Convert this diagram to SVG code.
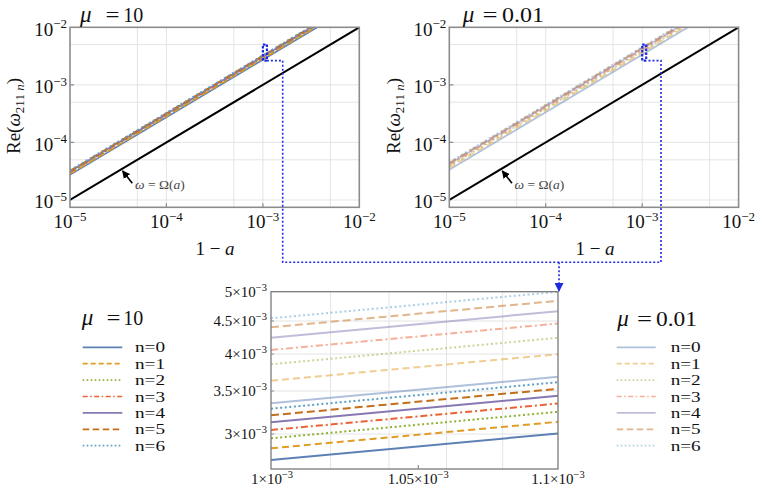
<svg xmlns="http://www.w3.org/2000/svg" width="763" height="499" viewBox="0 0 763 499" font-family="'Liberation Serif','DejaVu Serif','Times New Roman',serif">
<style>
text{font-family:'Liberation Serif','DejaVu Serif','Times New Roman',serif;fill:#111}
.tk{font-size:19px}
.sup{font-size:13px}
.ttl{font-size:20px}
.mu{font-size:23px;font-style:italic}
.ax{font-size:19px}
.it{font-style:italic}
.ann{font-size:13.5px;fill:#444}
.lg{font-size:14.5px}
.ilab{font-size:15px}
.isup{font-size:10.5px}
.frame{fill:none;stroke:#8c8c8c;stroke-width:1.6}
.iframe{fill:none;stroke:#7a7a7a;stroke-width:1.3}
.grid{stroke:#e4e4e4;stroke-width:1;fill:none}
.tick{stroke:#8c8c8c;stroke-width:1.2}
.c{fill:none}
.c0{stroke:#5E81B5}
.c1{stroke:#E19C24}
.c2{stroke:#8FB032}
.c3{stroke:#EB6235}
.c4{stroke:#8778B3}
.c5{stroke:#C56E1A}
.c6{stroke:#5D9EC7}
.d1{stroke-dasharray:7 4}
.d2{stroke-dasharray:2 2.6}
.d3{stroke-dasharray:7 3 2 3}
.d5{stroke-dasharray:8 4}
.d6{stroke-dasharray:2 2.6}
.lt{stroke-opacity:0.5}
.w1{stroke-width:1.7}
.w2{stroke-width:2}
.blk{stroke:#000;stroke-width:2;fill:none}
.blue{stroke:#1f2be0;fill:none;stroke-width:1.6;stroke-dasharray:2 2}
.bluer{stroke:#1f2be0;fill:none;stroke-width:2.2;stroke-dasharray:2.5 1.5}
</style>
<defs>
<marker id="ah" markerWidth="8" markerHeight="8" refX="7" refY="4" orient="auto" markerUnits="userSpaceOnUse">
<path d="M0,0 L8,4 L0,8 Z" fill="#000"/>
</marker>
<marker id="bh" markerWidth="9" markerHeight="9" refX="8" refY="4.5" orient="auto" markerUnits="userSpaceOnUse">
<path d="M0,0 L9,4.5 L0,9 Z" fill="#1f2be0"/>
</marker>
<clipPath id="cp1"><rect x="70" y="27.3" width="289.3" height="180"/></clipPath>
<clipPath id="cp2"><rect x="449.3" y="27.3" width="289.3" height="180"/></clipPath>
</defs>

<!-- Plot mu = 10 -->
<g id="plot-mu10">
<g class="grid">
<path d="M137.4,27.3V207.3M166.4,27.3V207.3M233.8,27.3V207.3M262.9,27.3V207.3M330.3,27.3V207.3"/>
<path d="M70,200H359.3M70,159.8H359.3M70,142.4H359.3M70,102.2H359.3M70,84.9H359.3M70,44.6H359.3"/>
</g>
<g clip-path="url(#cp1)">
<line class="blk" x1="70" y1="200" x2="359.3" y2="27.3"/>
<line class="c c0 w1" x1="70" y1="174.88" x2="317.2" y2="27.3"/>
<line class="c c1 d1 w1" x1="70" y1="173.82" x2="315.45" y2="27.3"/>
<line class="c c2 d2 w1" x1="70" y1="172.92" x2="313.95" y2="27.3"/>
<line class="c c3 d3 w1" x1="70" y1="172.18" x2="312.7" y2="27.3"/>
<line class="c c4 w1" x1="70" y1="171.49" x2="311.54" y2="27.3"/>
<line class="c c5 d5 w1" x1="70" y1="170.86" x2="310.49" y2="27.3"/>
<line class="c c6 d6 w1" x1="70" y1="170.27" x2="309.49" y2="27.3"/>
</g>
<rect class="frame" x="70" y="27.3" width="289.3" height="180"/>
<path class="tick" d="M166.4,207.3v-4M262.9,207.3v-4M70,142.4h4M70,84.9h4"/>
<text class="mu" x="80" y="21.7">μ</text>
<text class="ttl" x="105.5" y="21.7" textLength="14" lengthAdjust="spacingAndGlyphs">=</text>
<text class="ttl" x="123.3" y="21.7">10</text>
<g class="tk">
<text x="67" y="35.6" text-anchor="end">10<tspan class="sup" dy="-7.5">−2</tspan></text>
<text x="67" y="93.2" text-anchor="end">10<tspan class="sup" dy="-7.5">−3</tspan></text>
<text x="67" y="150.7" text-anchor="end">10<tspan class="sup" dy="-7.5">−4</tspan></text>
<text x="67" y="208.3" text-anchor="end">10<tspan class="sup" dy="-7.5">−5</tspan></text>
<text x="70" y="228.3" text-anchor="middle">10<tspan class="sup" dy="-7.5">−5</tspan></text>
<text x="166.4" y="228.3" text-anchor="middle">10<tspan class="sup" dy="-7.5">−4</tspan></text>
<text x="262.9" y="228.3" text-anchor="middle">10<tspan class="sup" dy="-7.5">−3</tspan></text>
<text x="359.3" y="228.3" text-anchor="middle">10<tspan class="sup" dy="-7.5">−2</tspan></text>
</g>
<text class="ax" x="215" y="255" text-anchor="middle">1 − <tspan class="it">a</tspan></text>
<text class="ax" transform="translate(19.5,116) rotate(-90)" text-anchor="middle">Re(<tspan class="it">ω</tspan><tspan font-size="13" dy="4">211 <tspan class="it">n</tspan></tspan><tspan dy="-4">)</tspan></text>
<line x1="132.3" y1="183.3" x2="122.7" y2="171" stroke="#000" stroke-width="1.6" marker-end="url(#ah)"/>
<text class="ann" x="135" y="189.3"><tspan class="it">ω</tspan> = Ω(<tspan class="it">a</tspan>)</text>
</g>

<!-- Plot mu = 0.01 -->
<g id="plot-mu001">
<g class="grid">
<path d="M516.7,27.3V207.3M545.7,27.3V207.3M613.1,27.3V207.3M642.2,27.3V207.3M709.6,27.3V207.3"/>
<path d="M449.3,200H738.6M449.3,159.8H738.6M449.3,142.4H738.6M449.3,102.2H738.6M449.3,84.9H738.6M449.3,44.6H738.6"/>
</g>
<g clip-path="url(#cp2)">
<line class="blk" x1="449.3" y1="200" x2="738.6" y2="27.3"/>
<line class="c c0 w1 lt" x1="449.3" y1="169.78" x2="687.98" y2="27.3"/>
<line class="c c1 d1 w1 lt" x1="449.3" y1="167.75" x2="684.58" y2="27.3"/>
<line class="c c2 d2 w1 lt" x1="449.3" y1="166.28" x2="682.12" y2="27.3"/>
<line class="c c3 d3 w1 lt" x1="449.3" y1="165.0" x2="679.97" y2="27.3"/>
<line class="c c4 w1 lt" x1="449.3" y1="163.89" x2="678.12" y2="27.3"/>
<line class="c c5 d5 w1 lt" x1="449.3" y1="162.95" x2="676.55" y2="27.3"/>
<line class="c c6 d6 w1 lt" x1="449.3" y1="162.15" x2="675.2" y2="27.3"/>
</g>
<rect class="frame" x="449.3" y="27.3" width="289.3" height="180"/>
<path class="tick" d="M545.7,207.3v-4M642.2,207.3v-4M449.3,142.4h4M449.3,84.9h4"/>
<text class="mu" x="462.7" y="21.7">μ</text>
<text class="ttl" x="482.5" y="21.7" textLength="15" lengthAdjust="spacingAndGlyphs">=</text>
<text class="ttl" x="502" y="21.7" textLength="42" lengthAdjust="spacingAndGlyphs">0.01</text>
<g class="tk">
<text x="446.3" y="35.6" text-anchor="end">10<tspan class="sup" dy="-7.5">−2</tspan></text>
<text x="446.3" y="93.2" text-anchor="end">10<tspan class="sup" dy="-7.5">−3</tspan></text>
<text x="446.3" y="150.7" text-anchor="end">10<tspan class="sup" dy="-7.5">−4</tspan></text>
<text x="446.3" y="208.3" text-anchor="end">10<tspan class="sup" dy="-7.5">−5</tspan></text>
<text x="449.3" y="228.3" text-anchor="middle">10<tspan class="sup" dy="-7.5">−5</tspan></text>
<text x="545.7" y="228.3" text-anchor="middle">10<tspan class="sup" dy="-7.5">−4</tspan></text>
<text x="642.2" y="228.3" text-anchor="middle">10<tspan class="sup" dy="-7.5">−3</tspan></text>
<text x="738.6" y="228.3" text-anchor="middle">10<tspan class="sup" dy="-7.5">−2</tspan></text>
</g>
<text class="ax" x="595" y="255" text-anchor="middle">1 − <tspan class="it">a</tspan></text>
<text class="ax" transform="translate(399.5,116) rotate(-90)" text-anchor="middle">Re(<tspan class="it">ω</tspan><tspan font-size="13" dy="4">211 <tspan class="it">n</tspan></tspan><tspan dy="-4">)</tspan></text>
<line x1="512" y1="183.3" x2="502.4" y2="171" stroke="#000" stroke-width="1.6" marker-end="url(#ah)"/>
<text class="ann" x="514.5" y="189.3"><tspan class="it">ω</tspan> = Ω(<tspan class="it">a</tspan>)</text>
</g>

<!-- Inset -->
<g id="inset">
<g class="grid">
<path d="M330.6,291.7V469M389,291.7V469M446.5,291.7V469M502.7,291.7V469"/>
<path d="M271,321H558M271,354H558M271,391H558M271,434H558"/>
</g>
<line class="c c0 w2" x1="271" y1="460" x2="558" y2="433.5"/>
<line class="c c1 d1 w2" x1="271" y1="448.3" x2="558" y2="421.8"/>
<line class="c c2 d2 w2" x1="271" y1="438.3" x2="558" y2="411.8"/>
<line class="c c3 d3 w2" x1="271" y1="430" x2="558" y2="403.5"/>
<line class="c c4 w2" x1="271" y1="422.3" x2="558" y2="395.8"/>
<line class="c c5 d5 w2" x1="271" y1="415.3" x2="558" y2="388.8"/>
<line class="c c6 d6 w2" x1="271" y1="408.7" x2="558" y2="382.2"/>
<line class="c c0 w2 lt" x1="271" y1="403.3" x2="558" y2="376.8"/>
<line class="c c1 d1 w2 lt" x1="271" y1="380.7" x2="558" y2="354.2"/>
<line class="c c2 d2 w2 lt" x1="271" y1="364.3" x2="558" y2="337.8"/>
<line class="c c3 d3 w2 lt" x1="271" y1="350" x2="558" y2="323.5"/>
<line class="c c4 w2 lt" x1="271" y1="337.7" x2="558" y2="311.2"/>
<line class="c c5 d5 w2 lt" x1="271" y1="327.3" x2="558" y2="300.8"/>
<line class="c c6 d6 w2 lt" x1="271" y1="318.3" x2="558" y2="291.8"/>
<rect class="iframe" x="271" y="291.7" width="287" height="177.3"/>
<path class="tick" d="M418.3,469v-4M271,321h3M271,354h3M271,391h3M271,434h3"/>
<g class="ilab">
<text x="267" y="296.7" text-anchor="end">5×10<tspan class="isup" dy="-6">−3</tspan></text>
<text x="267" y="325.5" text-anchor="end">4.5×10<tspan class="isup" dy="-6">−3</tspan></text>
<text x="267" y="358.5" text-anchor="end">4×10<tspan class="isup" dy="-6">−3</tspan></text>
<text x="267" y="395.5" text-anchor="end">3.5×10<tspan class="isup" dy="-6">−3</tspan></text>
<text x="267" y="438.5" text-anchor="end">3×10<tspan class="isup" dy="-6">−3</tspan></text>
<text x="272" y="484.3" text-anchor="middle">1×10<tspan class="isup" dy="-6">−3</tspan></text>
<text x="418.3" y="484.3" text-anchor="middle">1.05×10<tspan class="isup" dy="-6">−3</tspan></text>
<text x="558" y="484.3" text-anchor="middle">1.1×10<tspan class="isup" dy="-6">−3</tspan></text>
</g>
</g>

<!-- Legend mu = 10 -->
<g id="legend-mu10">
<text class="mu" x="81.7" y="325">μ</text>
<text class="ttl" x="106.5" y="325" textLength="14" lengthAdjust="spacingAndGlyphs">=</text>
<text class="ttl" x="123.3" y="325">10</text>
<line class="c c0 w1" x1="82.7" y1="347.3" x2="122.3" y2="347.3"/>
<line class="c c1 w1" stroke-dasharray="5 3" x1="82.7" y1="363.7" x2="122.3" y2="363.7"/>
<line class="c c2 w1" stroke-dasharray="1.6 2.4" x1="82.7" y1="380.1" x2="122.3" y2="380.1"/>
<line class="c c3 w1" stroke-dasharray="5 2.5 1.5 2.5" x1="82.7" y1="396.5" x2="122.3" y2="396.5"/>
<line class="c c4 w1" x1="82.7" y1="412.9" x2="122.3" y2="412.9"/>
<line class="c c5 w1" stroke-dasharray="6.5 3.5" x1="82.7" y1="429.3" x2="122.3" y2="429.3"/>
<line class="c c6 w1" stroke-dasharray="1.6 2.4" x1="82.7" y1="445.7" x2="122.3" y2="445.7"/>
<g class="lg">
<text x="135" y="352.3" textLength="30" lengthAdjust="spacingAndGlyphs">n=0</text>
<text x="135" y="368.7" textLength="30" lengthAdjust="spacingAndGlyphs">n=1</text>
<text x="135" y="385.1" textLength="30" lengthAdjust="spacingAndGlyphs">n=2</text>
<text x="135" y="401.5" textLength="30" lengthAdjust="spacingAndGlyphs">n=3</text>
<text x="135" y="417.9" textLength="30" lengthAdjust="spacingAndGlyphs">n=4</text>
<text x="135" y="434.3" textLength="30" lengthAdjust="spacingAndGlyphs">n=5</text>
<text x="135" y="450.7" textLength="30" lengthAdjust="spacingAndGlyphs">n=6</text>
</g>
</g>

<!-- Legend mu = 0.01 -->
<g id="legend-mu001">
<text class="mu" x="617.3" y="326">μ</text>
<text class="ttl" x="637" y="326" textLength="15" lengthAdjust="spacingAndGlyphs">=</text>
<text class="ttl" x="656" y="326" textLength="41" lengthAdjust="spacingAndGlyphs">0.01</text>
<line class="c c0 w1 lt" x1="616.7" y1="347.3" x2="655.7" y2="347.3"/>
<line class="c c1 w1 lt" stroke-dasharray="5 3" x1="616.7" y1="363.7" x2="655.7" y2="363.7"/>
<line class="c c2 w1 lt" stroke-dasharray="1.6 2.4" x1="616.7" y1="380.1" x2="655.7" y2="380.1"/>
<line class="c c3 w1 lt" stroke-dasharray="5 2.5 1.5 2.5" x1="616.7" y1="396.5" x2="655.7" y2="396.5"/>
<line class="c c4 w1 lt" x1="616.7" y1="412.9" x2="655.7" y2="412.9"/>
<line class="c c5 w1 lt" stroke-dasharray="6.5 3.5" x1="616.7" y1="429.3" x2="655.7" y2="429.3"/>
<line class="c c6 w1 lt" stroke-dasharray="1.6 2.4" x1="616.7" y1="445.7" x2="655.7" y2="445.7"/>
<g class="lg">
<text x="670.7" y="352.3" textLength="30" lengthAdjust="spacingAndGlyphs">n=0</text>
<text x="670.7" y="368.7" textLength="30" lengthAdjust="spacingAndGlyphs">n=1</text>
<text x="670.7" y="385.1" textLength="30" lengthAdjust="spacingAndGlyphs">n=2</text>
<text x="670.7" y="401.5" textLength="30" lengthAdjust="spacingAndGlyphs">n=3</text>
<text x="670.7" y="417.9" textLength="30" lengthAdjust="spacingAndGlyphs">n=4</text>
<text x="670.7" y="434.3" textLength="30" lengthAdjust="spacingAndGlyphs">n=5</text>
<text x="670.7" y="450.7" textLength="30" lengthAdjust="spacingAndGlyphs">n=6</text>
</g>
</g>

<!-- Connectors (zoom markers) -->
<g id="connectors">
<rect class="bluer" x="262.9" y="44.6" width="4" height="16"/>
<rect class="bluer" x="642.2" y="44.6" width="4" height="16"/>
<path class="blue" d="M266.9,60.6H282.7V262.3H661V60.6H646.2"/>
<path class="blue" d="M559,262.3V291" marker-end="url(#bh)"/>
</g>
</svg>
